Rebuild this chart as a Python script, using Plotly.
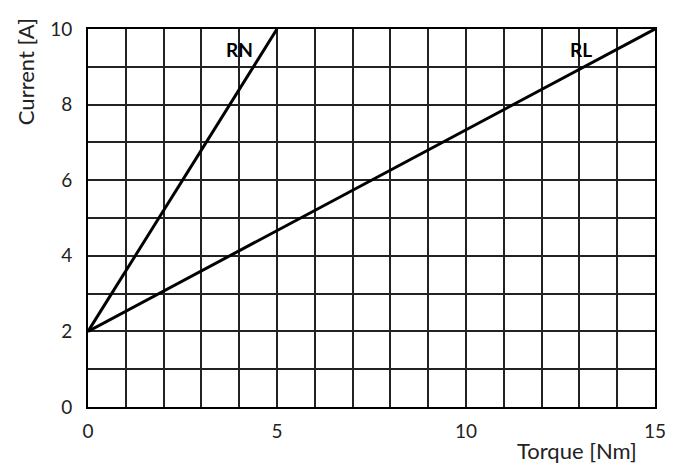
import plotly.graph_objects as go

torque_rn = [0, 5]
current_rn = [2, 10]
torque_rl = [0, 15]
current_rl = [2, 10]
x_ticks = [0, 5, 10, 15]
y_ticks = [0, 2, 4, 6, 8, 10]
labels = ["RN", "RL"]
label_x = [4.0, 13.05]
label_y = [9.45, 9.45]

FONT = "Lato"
fig = go.Figure()
fig.add_trace(go.Scatter(x=torque_rn, y=current_rn, mode="lines",
                         line=dict(color="black", width=3), showlegend=False))
fig.add_trace(go.Scatter(x=torque_rl, y=current_rl, mode="lines",
                         line=dict(color="black", width=3), showlegend=False))
for t, xv, yv in zip(labels, label_x, label_y):
    fig.add_annotation(x=xv, y=yv, text=f"<b>{t}</b>", showarrow=False,
                       font=dict(family=FONT, size=19, color="black"))

fig.add_annotation(xref="paper", yref="paper", x=0.862, y=-0.116, text="Torque [Nm]",
                   xanchor="center", yanchor="middle",
                   showarrow=False, font=dict(family=FONT, size=22, color="#222"))
fig.add_annotation(xref="paper", yref="paper", x=-0.111, y=0.886, text="Current [A]",
                   xanchor="center", yanchor="middle",
                   textangle=-90, showarrow=False, font=dict(family=FONT, size=22, color="#222"))

fig.update_xaxes(range=[0, 15], tickvals=x_ticks, showgrid=True, gridcolor="#222", gridwidth=1.5,
                 minor=dict(dtick=1, showgrid=True, gridcolor="#222", gridwidth=1.5),
                 showline=True, linecolor="black", linewidth=2, mirror=True, zeroline=False,
                 ticks="", ticklabelstandoff=6,
                 tickfont=dict(family=FONT, size=19, color="#222"))
fig.update_yaxes(range=[0, 10], tickvals=y_ticks, showgrid=True, gridcolor="#222", gridwidth=1.5,
                 minor=dict(dtick=1, showgrid=True, gridcolor="#222", gridwidth=1.5),
                 showline=True, linecolor="black", linewidth=2, mirror=True, zeroline=False,
                 ticks="", ticklabelstandoff=10,
                 tickfont=dict(family=FONT, size=19, color="#222"))
fig.update_layout(width=681, height=469, margin=dict(l=88, r=26, t=29, b=62),
                  plot_bgcolor="white", paper_bgcolor="white")
fig.write_html("out.html", config={"displayModeBar": False},
               post_script="document.body.style.margin='0';document.body.style.overflow='hidden';")
